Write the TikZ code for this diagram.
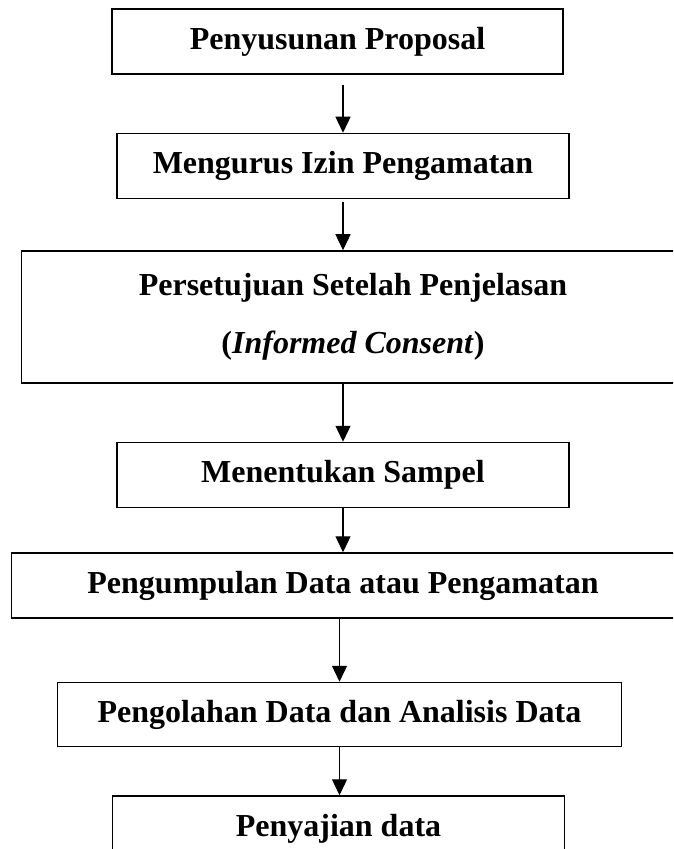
\documentclass[tikz,border=0pt]{standalone}
\usepackage{fontspec}
\setmainfont{Liberation Serif}
\usetikzlibrary{arrows.meta, positioning}
\tikzset{
  stepbox/.style = {rectangle, draw=black, line width=0.75pt, inner sep=0pt,
                    minimum height=32.5pt, align=center,
                    font=\fontsize{16}{29}\selectfont\bfseries},
  arr/.style     = {-{Triangle[length=8pt, width=7.5pt]}, line width=0.65pt},
}

\begin{document}
\begin{tikzpicture}[x=0.5pt, y=-0.5pt]
  \useasboundingbox (0,0) rectangle (673,849);
  \clip (0,0) rectangle (673,849);

  % ── steps
  \node[stepbox, minimum width=225.5pt] (prop) at (337.5,41.5) {Penyusunan Proposal};
  \node[stepbox, minimum width=226pt, below=29pt of prop, xshift=2.75pt] (izin) {Mengurus Izin Pengamatan};
  \node[stepbox, minimum width=331.5pt, minimum height=66pt,
        below=25.5pt of izin, xshift=5pt] (psp)
        {Persetujuan Setelah Penjelasan\\(\textit{Informed Consent})};
  \node[stepbox, minimum width=226pt, below=29pt of psp, xshift=-5pt] (smpl) {Menentukan Sampel};
  \node[stepbox, minimum width=331.5pt, below=22pt of smpl] (kump) {Pengumpulan Data atau Pengamatan};
  \node[stepbox, minimum width=282pt, minimum height=32pt,
        below=31.5pt of kump, xshift=-1.75pt] (olah) {Pengolahan Data dan Analisis Data};
  \node[stepbox, minimum width=226pt, minimum height=33pt,
        below=24pt of olah, xshift=-0.5pt] (saji) {Penyajian data};

  % ── arrows
  \draw[arr] ([yshift=-5pt]prop.south -| izin.north) -- (izin.north);
  \draw[arr] ([yshift=-1.5pt]izin.south -| izin.north) -- (izin.north |- psp.north);
  \draw[arr] (psp.south -| smpl.north) -- (smpl.north);
  \draw[arr] (smpl.south) -- (smpl.south |- kump.north);
  \draw[arr] (kump.south -| olah.north) -- (olah.north);
  \draw[arr] (olah.south) -- (olah.south |- saji.north);

\end{tikzpicture}
\end{document}
